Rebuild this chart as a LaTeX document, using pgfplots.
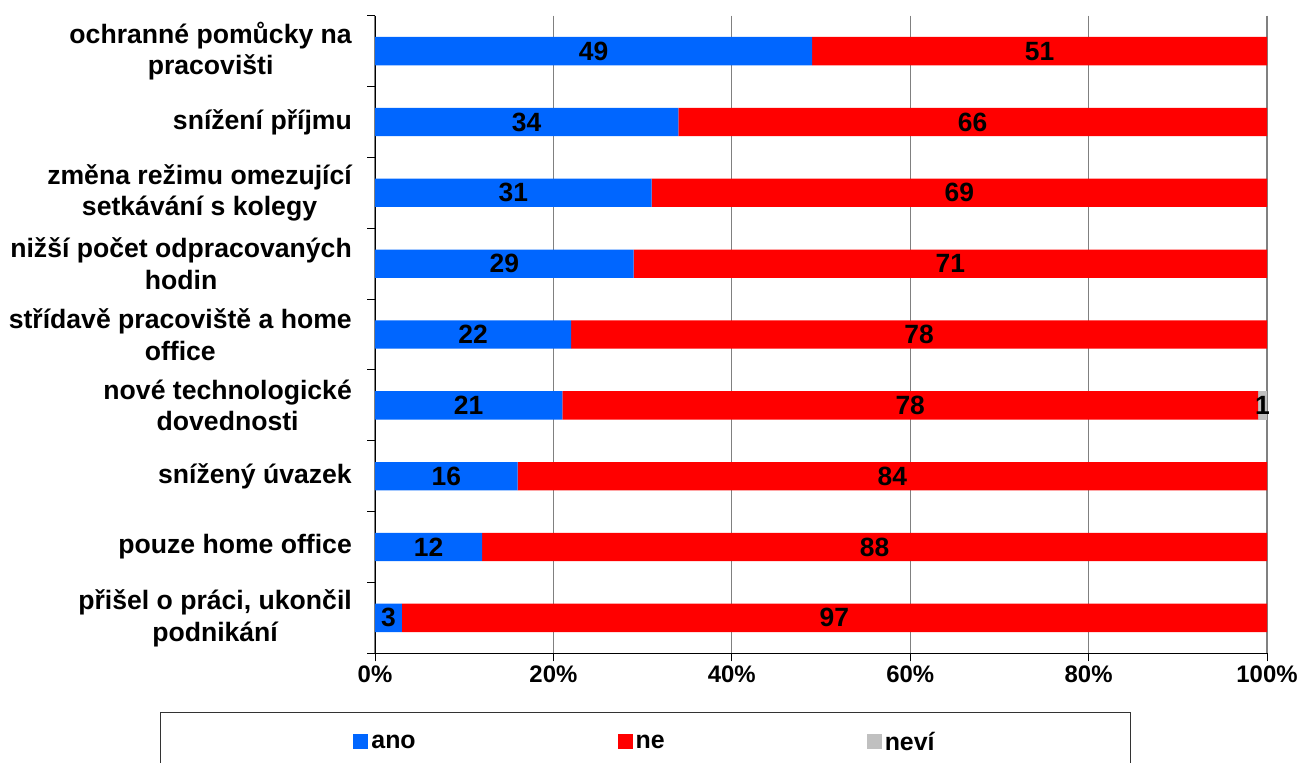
\documentclass[border=0pt]{standalone}
\usepackage{fontspec}
\setmainfont{Liberation Sans}
\usepackage{pgfplots}
\pgfplotsset{compat=1.18}
\definecolor{cano}{RGB}{0,102,255}
\definecolor{cne}{RGB}{255,0,0}
\definecolor{cnevi}{RGB}{192,192,192}
\definecolor{cgrid}{RGB}{128,128,128}
\newcommand{\lbl}{\bfseries\fontsize{26.7}{32}\selectfont}
\newcommand{\nlbl}{\bfseries\fontsize{26.5}{31.5}\selectfont}
\newcommand{\tck}{\bfseries\fontsize{24}{29}\selectfont}
\newcommand{\lgd}{\bfseries\fontsize{25}{30}\selectfont}
\begin{document}
\begin{tikzpicture}
\path[use as bounding box] (0,0) rectangle (1299bp,-763bp);
\begin{axis}[
  at={(375bp,-653.3bp)}, anchor=south west,
  scale only axis, width=892bp, height=637.6bp,
  xbar stacked, bar width=0.4,
  xmin=0, xmax=100, ymin=-0.5, ymax=8.5, y dir=reverse,
  enlargelimits=false,
  axis x line*=bottom, axis y line*=left,
  axis line style={black, line width=1bp},
  xtick={0,20,...,100},
  xticklabels={0\%,20\%,40\%,60\%,80\%,100\%},
  xmajorgrids, grid style={cgrid, line width=1.2bp},
  ytick={0,...,8},
  yticklabels={{ochranné pomůcky na\\pracovišti},{snížení příjmu},{změna režimu omezující\\setkávání s kolegy},{nižší počet odpracovaných\\hodin},{střídavě pracoviště a home\\office},{nové technologické\\dovednosti},{snížený úvazek},{pouze home office},{přišel o práci, ukončil\\podnikání}},
  minor ytick={-0.5,0.5,...,8.5},
  tick align=outside,
  major tick length=8bp, minor tick length=8bp,
  major y tick style={draw=none},
  minor y tick style={black, line width=1bp},
  major x tick style={black, line width=1bp},
  yticklabel style={font=\lbl, align=center, inner sep=0pt, xshift=-15bp},
  xticklabel style={font=\tck, inner sep=0pt, yshift=-4bp},
  point meta=explicit symbolic,
  nodes near coords,
  nodes near coords style={font=\nlbl, text=black},
  legend columns=3,
  legend style={at={(-0.241,-0.0921)}, anchor=north west, draw=black!80, line width=0.8bp,
    inner xsep=193bp, inner ysep=18bp, font=\lgd,
    nodes={inner xsep=3bp, inner ysep=2bp},
    /tikz/every even column/.append style={column sep=199bp}},
  legend image code/.code={\fill[#1, draw=none] (0bp,-6.5bp) rectangle (15bp,8.5bp);},
]
\addplot[fill=cano, draw=none] coordinates {(49,0) [49] (34,1) [34] (31,2) [31] (29,3) [29] (22,4) [22] (21,5) [21] (16,6) [16] (12,7) [12] (3,8) [3]};
\addplot[fill=cne, draw=none] coordinates {(51,0) [51] (66,1) [66] (69,2) [69] (71,3) [71] (78,4) [78] (78,5) [78] (84,6) [84] (88,7) [88] (97,8) [97]};
\addplot[fill=cnevi, draw=none] coordinates {(0,0) [] (0,1) [] (0,2) [] (0,3) [] (0,4) [] (1,5) [1] (0,6) [] (0,7) [] (0,8) []};
\legend{ano,ne,neví}
\end{axis}
\end{tikzpicture}
\end{document}
